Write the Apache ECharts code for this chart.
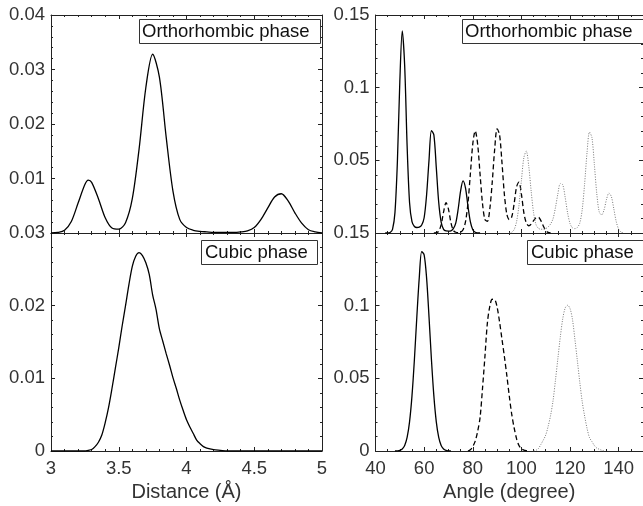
<!DOCTYPE html>
<html>
<head>
<meta charset="utf-8">
<script src="https://cdn.jsdelivr.net/npm/echarts@6/dist/echarts.min.js"></script>
<style>
html,body{margin:0;padding:0;background:#fff;}
#chart{width:643px;height:506px;}
</style>
</head>
<body>
<div id="chart"></div>
<script>
// ---------- Distance distributions ----------
const distOrthoX = [3.00,3.05,3.10,3.15,3.20,3.25,3.275,3.30,3.35,3.40,3.45,3.50,3.55,3.60,3.65,3.70,3.75,3.80,3.85,3.90,3.95,4.00,4.05,4.10,4.15,4.20,4.25,4.30,4.35,4.40,4.45,4.50,4.55,4.60,4.65,4.70,4.75,4.80,4.85,4.90,4.95,5.00];
const distOrthoY = [0,0.0001,0.0005,0.0021,0.0055,0.0089,0.0097,0.0093,0.0063,0.0028,0.0009,0.0007,0.0019,0.0063,0.0154,0.0267,0.0328,0.0286,0.0176,0.0077,0.0025,0.0010,0.0005,0.0003,0.0002,0.0001,0.0001,0.0001,0.0001,0.0002,0.0004,0.0010,0.0025,0.0046,0.0066,0.0072,0.0059,0.0037,0.0018,0.0006,0.0002,0];

const distCubicX = [3.000,3.250,3.275,3.300,3.325,3.350,3.375,3.400,3.425,3.450,3.475,3.500,3.525,3.550,3.575,3.600,3.625,3.650,3.675,3.700,3.725,3.750,3.775,3.800,3.825,3.850,3.875,3.900,3.925,3.950,3.975,4.000,4.025,4.050,4.075,4.100,4.125,4.150,4.200,4.250,4.300,5.000];
const distCubicY = [0,0,0.0001,0.0002,0.0006,0.0012,0.0022,0.0039,0.0060,0.0086,0.0114,0.0142,0.0172,0.0200,0.0229,0.0254,0.0268,0.0273,0.0269,0.0259,0.0243,0.0215,0.0195,0.0168,0.0151,0.0134,0.0118,0.0101,0.0086,0.0070,0.0056,0.0043,0.0033,0.0024,0.0015,0.0010,0.0006,0.0004,0.0002,0.0001,0,0];

// ---------- Angle distributions, orthorhombic ----------
const angOrthoSolidX = [44,45,46,47,48,49,50,51,52,53,54,55,56,57,58,59,60,61,62,63,64,65,66,67,68,69,70,71,72,73,74,75,76,77,78,79,80,81,82,83];
const angOrthoSolidY = [0,0,0.0003,0.0025,0.0140,0.0490,0.1040,0.1390,0.1150,0.0600,0.0210,0.0078,0.0045,0.0038,0.0040,0.0055,0.0105,0.0260,0.0500,0.0705,0.0675,0.0450,0.0210,0.0075,0.0025,0.0014,0.0013,0.0015,0.0030,0.0068,0.0165,0.0290,0.0359,0.0311,0.0187,0.0078,0.0023,0.0005,0.0001,0];

const angOrthoDashX = [64,65,66,67,68,69,70,71,72,73,74,75,76,77,78,79,80,81,82,83,84,85,86,87,88,89,90,91,92,93,94,95,96,97,98,99,100,101,102,103,104,105,106,107,108,109,110,111,112];
const angOrthoDashY = [0,0.0002,0.0012,0.0057,0.0146,0.0208,0.0164,0.0072,0.0018,0.0005,0.0002,0.0006,0.0022,0.0077,0.0202,0.0404,0.0612,0.0703,0.0612,0.0404,0.0203,0.0092,0.0080,0.0165,0.0349,0.0575,0.0717,0.0678,0.0486,0.0265,0.0130,0.0092,0.0110,0.0200,0.0317,0.0350,0.0268,0.0140,0.0070,0.0050,0.0060,0.0085,0.0105,0.0108,0.0085,0.0048,0.0018,0.0004,0];

const angOrthoDotX = [95,96,97,98,99,100,101,102,103,104,105,106,107,108,109,110,111,112,113,114,115,116,117,118,119,120,121,122,123,124,125,126,127,128,129,130,131,132,133,134,135,136,137,138,139,140,141,142];
const angOrthoDotY = [0,0.0005,0.0023,0.0077,0.0191,0.0361,0.0518,0.0563,0.0463,0.0290,0.0140,0.0058,0.0032,0.0026,0.0026,0.0030,0.0042,0.0062,0.0098,0.0175,0.0270,0.0340,0.0332,0.0245,0.0138,0.0065,0.0035,0.0030,0.0038,0.0068,0.0160,0.0340,0.0556,0.0694,0.0657,0.0471,0.0270,0.0145,0.0125,0.0160,0.0232,0.0275,0.0250,0.0166,0.0078,0.0026,0.0006,0];

// ---------- Angle distributions, cubic ----------
const angCubicSolidX = [48,49,50,51,52,53,54,55,56,57,58,59,60,61,62,63,64,65,66,67,68,69,70,71];
const angCubicSolidY = [0,0.0001,0.0004,0.0014,0.0038,0.0093,0.0200,0.0379,0.0630,0.0924,0.1193,0.1372,0.1350,0.1193,0.0924,0.0630,0.0379,0.0200,0.0093,0.0038,0.0014,0.0004,0.0001,0];

const angCubicDashX = [78,79,80,81,82,83,84,85,86,87,88,89,90,91,92,93,94,95,96,97,98,99,100,101,102,103];
const angCubicDashY = [0,0.0008,0.0030,0.0068,0.0135,0.0230,0.0430,0.0650,0.0880,0.0995,0.1044,0.1042,0.0990,0.0890,0.0770,0.0650,0.0520,0.0380,0.0255,0.0160,0.0085,0.0038,0.0015,0.0006,0.0002,0];

const angCubicDotX = [105,106,107,108,109,110,111,112,113,114,115,116,117,118,119,120,121,122,123,124,125,126,127,128,129,130,131,132,133,134];
const angCubicDotY = [0,0.0005,0.0017,0.0045,0.0075,0.0110,0.0170,0.0245,0.0345,0.0487,0.0637,0.0785,0.0910,0.0984,0.1003,0.0980,0.0905,0.0768,0.0623,0.0474,0.0340,0.0240,0.0155,0.0092,0.0065,0.0038,0.0020,0.0012,0.0005,0];

// ---------- Texts ----------
const boxOrtho = 'Orthorhombic phase';
const boxCubic = 'Cubic phase';
const xNameDist = 'Distance (Å)';
const xNameAng = 'Angle (degree)';

const FONT = '"Liberation Sans", Arial, Helvetica, sans-serif';
const TXT = '#333';
const AX = '#222';

function zip(xs, ys){ return xs.map((x,i)=>[x, ys[i]]); }

const grids = [
  {left:51, top:15, width:271, height:218},
  {left:51, top:233, width:271, height:218},
  {left:375.5, top:15, width:271, height:218},
  {left:375.5, top:233, width:271, height:218}
];

function xAx(g, min, max, interval, minorSplit, pos, showLabels, name, hideMax){
  return {
    type:'value', gridIndex:g, min:min, max:max, interval:interval, position:pos,
    axisLine:{show:true, onZero:false, lineStyle:{color:AX, width:1}},
    axisTick:{show:true, inside:true, length:4, lineStyle:{color:AX}},
    minorTick:{show:true, splitNumber:minorSplit, length:2, lineStyle:{color:AX}},
    splitLine:{show:false},
    axisLabel:{show:showLabels, color:TXT, fontFamily:FONT, fontSize:18.5, margin:8, showMaxLabel: !hideMax},
    name: name || '', nameLocation:'middle', nameGap:31,
    nameTextStyle:{color:TXT, fontFamily:FONT, fontSize:20}
  };
}
function yAx(g, min, max, interval, pos, showLabels, hideMin){
  return {
    type:'value', gridIndex:g, min:min, max:max, interval:interval, position:pos,
    axisLine:{show:true, onZero:false, lineStyle:{color:AX, width:1}},
    axisTick:{show:true, inside:true, length:4, lineStyle:{color:AX}},
    minorTick:{show:true, splitNumber:5, length:2, lineStyle:{color:AX}},
    splitLine:{show:false},
    axisLabel:{show:showLabels, color:TXT, fontFamily:FONT, fontSize:18.5, margin:6, showMinLabel: !hideMin}
  };
}

const xAxes = [
  xAx(0,3,5,0.5,5,'bottom',false), xAx(0,3,5,0.5,5,'top',false),
  xAx(1,3,5,0.5,5,'bottom',true,xNameDist), xAx(1,3,5,0.5,5,'top',false),
  xAx(2,40,150,20,4,'bottom',false), xAx(2,40,150,20,4,'top',false),
  xAx(3,40,150,20,4,'bottom',true,xNameAng,true), xAx(3,40,150,20,4,'top',false)
];
const yAxes = [
  yAx(0,0,0.04,0.01,'left',true,true), yAx(0,0,0.04,0.01,'right',false),
  yAx(1,0,0.03,0.01,'left',true,false), yAx(1,0,0.03,0.01,'right',false),
  yAx(2,0,0.15,0.05,'left',true,true), yAx(2,0,0.15,0.05,'right',false),
  yAx(3,0,0.15,0.05,'left',true,false), yAx(3,0,0.15,0.05,'right',false)
];

function ser(ax, data, type, color, width){
  return {
    type:'line', xAxisIndex:ax, yAxisIndex:ax, data:data, showSymbol:false, symbol:'none',
    smooth:0.3, silent:true,
    lineStyle:{color:color, width:width, type:type}
  };
}

const series = [
  ser(0, zip(distOrthoX, distOrthoY), 'solid', '#000', 1.3),
  ser(2, zip(distCubicX, distCubicY), 'solid', '#000', 1.3),
  ser(4, zip(angOrthoSolidX, angOrthoSolidY), 'solid', '#000', 1.3),
  ser(4, zip(angOrthoDashX, angOrthoDashY), [5,3], '#000', 1.3),
  ser(4, zip(angOrthoDotX, angOrthoDotY), [1,1.5], '#777', 1),
  ser(6, zip(angCubicSolidX, angCubicSolidY), 'solid', '#000', 1.3),
  ser(6, zip(angCubicDashX, angCubicDashY), [5,3], '#000', 1.3),
  ser(6, zip(angCubicDotX, angCubicDotY), [1,1.5], '#777', 1)
];

function box(text, left, top, pad){
  return {
    text:text, left:left, top:top, padding:pad,
    borderColor:'#333', borderWidth:1, backgroundColor:'#fff',
    textStyle:{color:'#111', fontFamily:FONT, fontSize:18.5, fontWeight:'normal', lineHeight:21}
  };
}

const option = {
  animation:false,
  backgroundColor:'#fff',
  grid:grids,
  xAxis:xAxes,
  yAxis:yAxes,
  title:[
    box(boxOrtho, 139, 19, [2,11,2,3]),
    box(boxCubic, 201, 240, [2,10,2,4]),
    box(boxOrtho, 462, 19, [2,11,2,3]),
    box(boxCubic, 527, 240, [2,10,2,4])
  ],
  series:series
};

const chart = echarts.init(document.getElementById('chart'), null, {renderer:'canvas'});
chart.setOption(option);
</script>
</body>
</html>
